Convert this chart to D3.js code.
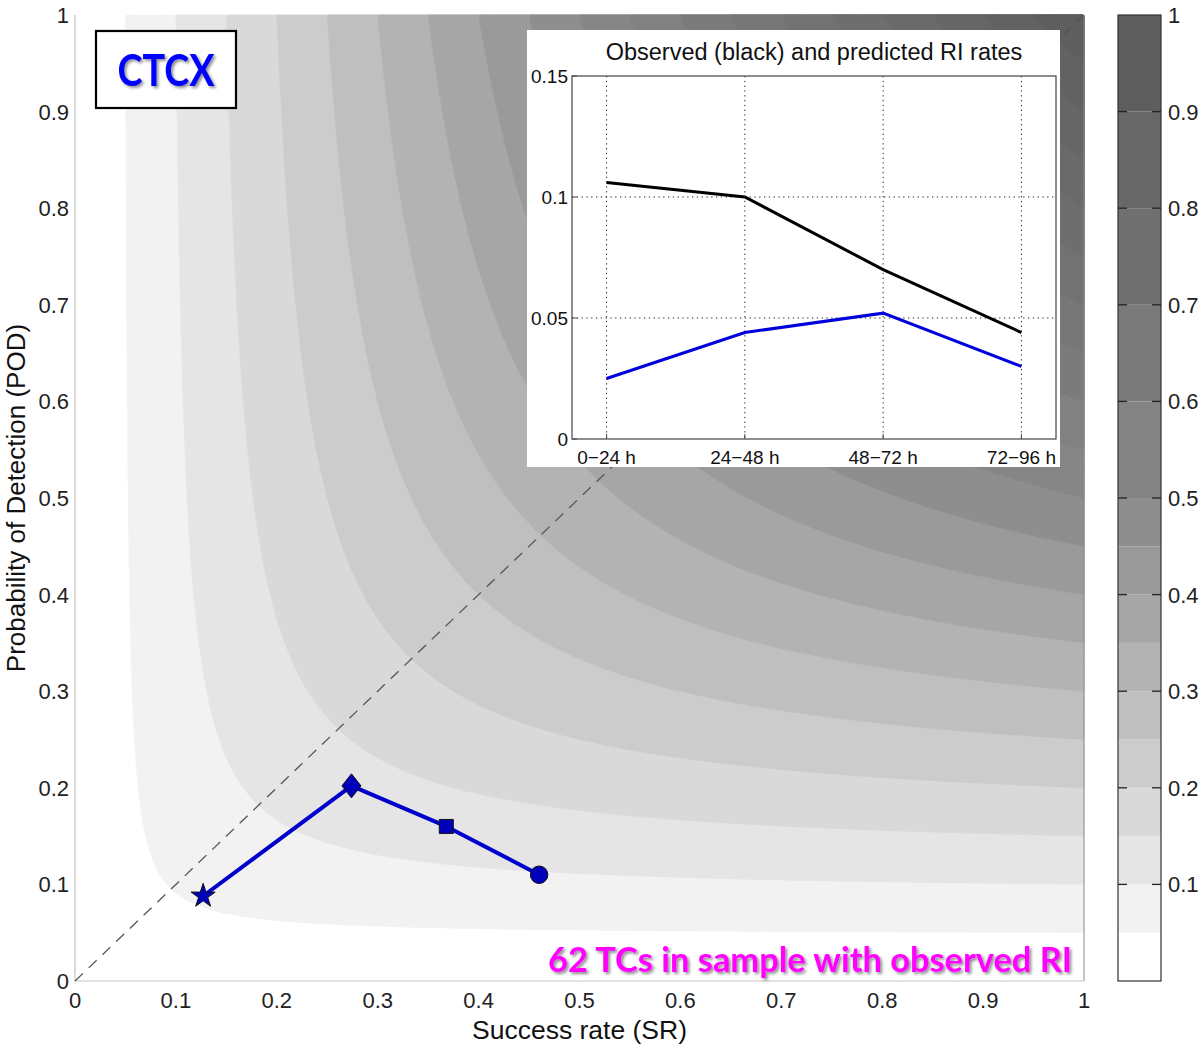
<!DOCTYPE html>
<html>
<head>
<meta charset="utf-8">
<script src="https://cdn.jsdelivr.net/npm/d3@7"></script>
<style>
  body { margin: 0; background: #fff; }
  svg { display: block; font-family: "Liberation Sans", Arial, sans-serif; }
</style>
</head>
<body>
<script>
// ---------- DATA ----------
// CSI contour levels and the grey of the band above each level
var csiLevels = [0.05, 0.1, 0.15, 0.2, 0.25, 0.3, 0.35, 0.4, 0.45, 0.5,
                 0.55, 0.6, 0.65, 0.7, 0.75, 0.8, 0.85, 0.9, 0.95];
var bandColors = ["#f2f2f2", "#e5e5e5", "#d9d9d9", "#cccccc", "#bfbfbf", "#b3b3b3",
                  "#a6a6a6", "#9a9a9a", "#8e8e8e", "#868686", "#818181", "#7b7b7b",
                  "#777777", "#727272", "#6e6e6e", "#6a6a6a", "#666666", "#626262", "#5e5e5e"];

// colorbar segments
var cbEdges = [0, 0.05, 0.1, 0.15, 0.2, 0.25, 0.3, 0.35, 0.4, 0.45, 0.5, 0.6, 0.7, 0.8, 0.9, 1];
var cbColors = ["#ffffff", "#f2f2f2", "#e5e5e5", "#d9d9d9", "#cccccc", "#bfbfbf", "#b3b3b3",
                "#a6a6a6", "#9a9a9a", "#8e8e8e", "#838383", "#7a7a7a", "#707070", "#676767", "#5e5e5e"];
var cbTicks = [0.1, 0.2, 0.3, 0.4, 0.5, 0.6, 0.7, 0.8, 0.9, 1];

var axisTicks = [0, 0.1, 0.2, 0.3, 0.4, 0.5, 0.6, 0.7, 0.8, 0.9, 1];

// forecast periods
var periods = ["0\u221224 h", "24\u221248 h", "48\u221272 h", "72\u221296 h"];
var successRate = [0.460, 0.368, 0.274, 0.127];
var podValues = [0.110, 0.160, 0.202, 0.088];
var markerShapes = ["circle", "square", "diamond", "star"];

// inset
var observedRate = [0.106, 0.100, 0.070, 0.044];
var predictedRate = [0.025, 0.044, 0.052, 0.030];
var insetTicks = [0, 0.05, 0.1, 0.15];

// ---------- DIMENSIONS ----------
var w = 1200, h = 1044;
var plot = { left: 75, right: 1084, top: 15, bottom: 981 };
var cbar = { left: 1118, right: 1161 };
var inset = { left: 527, top: 30, right: 1060, bottom: 467,
              axLeft: 572, axRight: 1056, axTop: 76, axBottom: 439 };

var x = d3.scaleLinear().domain([0, 1]).range([plot.left, plot.right]);
var y = d3.scaleLinear().domain([0, 1]).range([plot.bottom, plot.top]);

var svg = d3.select("body").append("svg").attr("width", w).attr("height", h);

var defs = svg.append("defs");
var shadow = defs.append("filter").attr("id", "shadow")
  .attr("x", "-20%").attr("y", "-20%").attr("width", "140%").attr("height", "140%");
shadow.append("feDropShadow").attr("dx", 2).attr("dy", 2)
  .attr("stdDeviation", 1.5).attr("flood-color", "#000").attr("flood-opacity", 0.45);

// ---------- CSI CONTOURS ----------
function csi(sr, pod) { return 1 / (1 / sr + 1 / pod - 1); }

var n = 500;
var grid = new Array(n * n);
for (var j = 0; j < n; j++) {
  for (var i = 0; i < n; i++) {
    grid[i + j * n] = csi((i + 0.5) / n, (j + 0.5) / n);
  }
}
var contours = d3.contours().size([n, n]).thresholds(csiLevels)(grid);

var proj = d3.geoTransform({
  point: function (gx, gy) { this.stream.point(x(gx / n), y(gy / n)); }
});
var path = d3.geoPath(proj);

svg.append("rect")
  .attr("x", plot.left).attr("y", plot.top)
  .attr("width", plot.right - plot.left).attr("height", plot.bottom - plot.top)
  .attr("fill", "#fff");

svg.append("g").selectAll("path")
  .data(contours)
  .enter().append("path")
  .attr("d", path)
  .attr("fill", function (d, k) { return bandColors[k]; })
  .attr("stroke", function (d, k) { return bandColors[k]; })
  .attr("stroke-width", 0.5);

// axis box lines
svg.append("line").attr("x1", plot.left).attr("x2", plot.left)
  .attr("y1", plot.top).attr("y2", plot.bottom).attr("stroke", "#b4b4b4");
svg.append("line").attr("x1", plot.left).attr("x2", plot.right)
  .attr("y1", plot.bottom).attr("y2", plot.bottom).attr("stroke", "#c8c8c8");
svg.append("line").attr("x1", plot.right).attr("x2", plot.right)
  .attr("y1", plot.top).attr("y2", plot.bottom).attr("stroke", "#8a8a8a");

// diagonal
svg.append("line")
  .attr("x1", x(0)).attr("y1", y(0)).attr("x2", x(1)).attr("y2", y(1))
  .attr("stroke", "#555").attr("stroke-width", 1.3).attr("stroke-dasharray", "11,8");

// ---------- AXES TEXT ----------
var tickFmt = function (v) { return v === 0 || v === 1 ? String(v) : d3.format(".1f")(v); };

svg.append("g").selectAll("text").data(axisTicks).enter().append("text")
  .attr("x", plot.left - 6).attr("y", function (d) { return y(d) + 8; })
  .attr("text-anchor", "end").attr("font-size", 22).attr("fill", "#222")
  .text(tickFmt);

svg.append("g").selectAll("text").data(axisTicks).enter().append("text")
  .attr("x", function (d) { return x(d); }).attr("y", plot.bottom + 27)
  .attr("text-anchor", "middle").attr("font-size", 22).attr("fill", "#222")
  .text(tickFmt);

svg.append("text")
  .attr("transform", "translate(25," + ((plot.top + plot.bottom) / 2) + ") rotate(-90)")
  .attr("text-anchor", "middle").attr("font-size", 26).attr("fill", "#111")
  .text("Probability of Detection (POD)");

svg.append("text")
  .attr("x", (plot.left + plot.right) / 2).attr("y", 1039)
  .attr("text-anchor", "middle").attr("font-size", 26.5).attr("fill", "#111")
  .text("Success rate (SR)");

// ---------- SERIES ----------
var lineMain = d3.line()
  .x(function (d) { return x(d[0]); })
  .y(function (d) { return y(d[1]); });
var pts = successRate.map(function (s, k) { return [s, podValues[k], markerShapes[k]]; });

svg.append("path").attr("d", lineMain(pts))
  .attr("fill", "none").attr("stroke", "#0000cc").attr("stroke-width", 4)
  .attr("stroke-linejoin", "round");

function markerPath(shape) {
  if (shape === "circle") return d3.symbol(d3.symbolCircle, 240)();
  if (shape === "square") return d3.symbol(d3.symbolSquare, 196)();
  if (shape === "star") return d3.symbol(d3.symbolStar, 180)();
  return "M0,-12L9.5,0L0,12L-9.5,0Z";
}

svg.append("g").selectAll("path").data(pts).enter().append("path")
  .attr("transform", function (d) { return "translate(" + x(d[0]) + "," + y(d[1]) + ")"; })
  .attr("d", function (d) { return markerPath(d[2]); })
  .attr("fill", "#0000bb").attr("stroke", "#111").attr("stroke-width", 1);

// ---------- COLORBAR ----------
var cy = d3.scaleLinear().domain([0, 1]).range([plot.bottom, plot.top]);
svg.append("g").selectAll("rect").data(cbColors).enter().append("rect")
  .attr("x", cbar.left).attr("width", cbar.right - cbar.left)
  .attr("y", function (d, k) { return cy(cbEdges[k + 1]); })
  .attr("height", function (d, k) { return cy(cbEdges[k]) - cy(cbEdges[k + 1]); })
  .attr("fill", function (d) { return d; });
svg.append("rect")
  .attr("x", cbar.left).attr("y", cy(1))
  .attr("width", cbar.right - cbar.left).attr("height", cy(0) - cy(1))
  .attr("fill", "none").attr("stroke", "#333").attr("stroke-width", 1.2);
var cbt = svg.append("g").selectAll("g").data(cbTicks).enter().append("g");
cbt.filter(function (d) { return d < 1; }).append("line")
  .attr("x1", cbar.left).attr("x2", cbar.left + 9)
  .attr("y1", function (d) { return cy(d); }).attr("y2", function (d) { return cy(d); })
  .attr("stroke", "#222").attr("stroke-width", 1.3);
cbt.filter(function (d) { return d < 1; }).append("line")
  .attr("x1", cbar.right - 9).attr("x2", cbar.right)
  .attr("y1", function (d) { return cy(d); }).attr("y2", function (d) { return cy(d); })
  .attr("stroke", "#222").attr("stroke-width", 1.3);
cbt.append("text")
  .attr("x", cbar.right + 7).attr("y", function (d) { return cy(d) + 8; })
  .attr("font-size", 22).attr("fill", "#222")
  .text(function (d) { return d === 1 ? "1" : d3.format(".1f")(d); });

// ---------- INSET ----------
var ix = d3.scaleLinear().domain([0.75, 4.25]).range([inset.axLeft, inset.axRight]);
var iy = d3.scaleLinear().domain([0, 0.15]).range([inset.axBottom, inset.axTop]);
var gi = svg.append("g");

gi.append("rect")
  .attr("x", inset.left).attr("y", inset.top)
  .attr("width", inset.right - inset.left).attr("height", inset.bottom - inset.top)
  .attr("fill", "#fff");

gi.append("text")
  .attr("x", (inset.axLeft + inset.axRight) / 2).attr("y", 60)
  .attr("text-anchor", "middle").attr("font-size", 23.5).attr("fill", "#111")
  .text("Observed (black) and predicted RI rates");

// grid
gi.append("g").selectAll("line").data(periods).enter().append("line")
  .attr("x1", function (d, k) { return ix(k + 1); }).attr("x2", function (d, k) { return ix(k + 1); })
  .attr("y1", iy(0.15)).attr("y2", iy(0))
  .attr("stroke", "#222").attr("stroke-dasharray", "1.3,3.5");
gi.append("g").selectAll("line").data(insetTicks.filter(function (t) { return t > 0 && t < 0.15; }))
  .enter().append("line")
  .attr("x1", ix.range()[0]).attr("x2", ix.range()[1])
  .attr("y1", function (d) { return iy(d); }).attr("y2", function (d) { return iy(d); })
  .attr("stroke", "#222").attr("stroke-dasharray", "1.3,3.5");

gi.append("rect")
  .attr("x", inset.axLeft).attr("y", inset.axTop)
  .attr("width", inset.axRight - inset.axLeft).attr("height", inset.axBottom - inset.axTop)
  .attr("fill", "none").attr("stroke", "#444").attr("stroke-width", 1.2);

// ticks
gi.append("g").selectAll("line").data(insetTicks).enter().append("line")
  .attr("x1", inset.axLeft).attr("x2", inset.axLeft + 5)
  .attr("y1", function (d) { return iy(d); }).attr("y2", function (d) { return iy(d); })
  .attr("stroke", "#444");
gi.append("g").selectAll("line").data(periods).enter().append("line")
  .attr("x1", function (d, k) { return ix(k + 1); }).attr("x2", function (d, k) { return ix(k + 1); })
  .attr("y1", inset.axBottom).attr("y2", inset.axBottom - 5)
  .attr("stroke", "#444");

gi.append("g").selectAll("text").data(insetTicks).enter().append("text")
  .attr("x", inset.axLeft - 4).attr("y", function (d) { return iy(d) + 7; })
  .attr("text-anchor", "end").attr("font-size", 19).attr("fill", "#111")
  .text(function (d) { return d === 0 ? "0" : String(d); });
gi.append("g").selectAll("text").data(periods).enter().append("text")
  .attr("x", function (d, k) { return ix(k + 1); }).attr("y", inset.axBottom + 25)
  .attr("text-anchor", "middle").attr("font-size", 19).attr("fill", "#111")
  .text(function (d) { return d; });

var lineInset = d3.line()
  .x(function (d, k) { return ix(k + 1); })
  .y(function (d) { return iy(d); });
gi.append("path").attr("d", lineInset(observedRate))
  .attr("fill", "none").attr("stroke", "#000").attr("stroke-width", 3);
gi.append("path").attr("d", lineInset(predictedRate))
  .attr("fill", "none").attr("stroke", "#0000dd").attr("stroke-width", 3);

// ---------- ANNOTATIONS ----------
svg.append("rect")
  .attr("x", 96).attr("y", 31).attr("width", 140).attr("height", 77)
  .attr("fill", "#fff").attr("stroke", "#000").attr("stroke-width", 2.2);
svg.append("text")
  .attr("x", 166).attr("y", 86)
  .attr("text-anchor", "middle").attr("font-family", "Lato, 'Open Sans', sans-serif")
  .attr("font-weight", "bold").attr("font-size", 43).attr("fill", "#0000ff")
  .attr("textLength", 97).attr("lengthAdjust", "spacingAndGlyphs")
  .attr("filter", "url(#shadow)")
  .text("CTCX");

svg.append("text")
  .attr("x", 1072).attr("y", 972)
  .attr("text-anchor", "end").attr("font-family", "Lato, 'Open Sans', sans-serif")
  .attr("font-weight", "bold").attr("font-size", 34).attr("fill", "#ff00ff")
  .attr("textLength", 524).attr("lengthAdjust", "spacingAndGlyphs")
  .attr("filter", "url(#shadow)")
  .text("62 TCs in sample with observed RI");
</script>
</body>
</html>
